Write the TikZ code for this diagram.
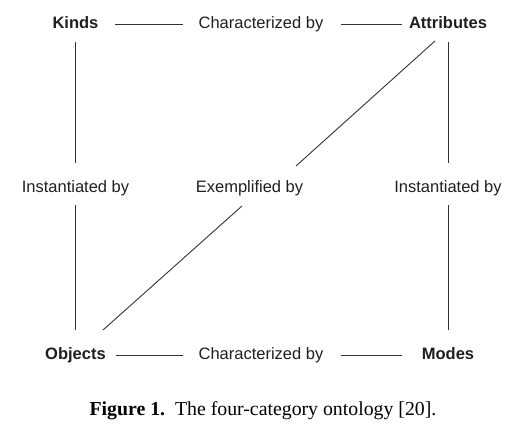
\documentclass[tikz,border=0pt]{standalone}
\usepackage{fontspec}
\setmainfont{Liberation Serif}
\newfontfamily\diagfont{Liberation Sans}
\begin{document}
\begin{tikzpicture}[x=1pt,y=-1pt,
  lbl/.style={font=\diagfont\fontsize{16.5}{18}\selectfont, text=black!88, inner sep=0pt, text height=12pt, text depth=3.5pt, anchor=center},
  cat/.style={lbl, font=\diagfont\bfseries\fontsize{16.5}{18}\selectfont},
  conn/.style={draw=black!80, line width=0.9pt}]
\useasboundingbox (0,0) rectangle (515,425);
\node[cat] (kinds) at (75.5,24.5) {Kinds};
\node[cat] (attr) at (448,24.5) {Attributes};
\node[cat] (obj) at (75.5,355) {Objects};
\node[cat] (modes) at (448,355) {Modes};
\node[lbl] (char1) at (261,24.5) {Characterized by};
\node[lbl] (char2) at (261,355) {Characterized by};
\node[lbl] (inst1) at (75.5,188.5) {Instantiated by};
\node[lbl] (inst2) at (448,188.5) {Instantiated by};
\node[lbl] (exem) at (249.5,188.5) {Exemplified by};
\node[font=\fontsize{19.8}{22}\selectfont, inner sep=0pt, anchor=base] (cap) at (263,415) {\textbf{Figure 1.}\ \ The four-category ontology [20].};
% horizontal
\draw[conn] ([xshift=16.7]kinds.east) -- ([xshift=-15.7]char1.west);
\draw[conn] ([xshift=17.7]char1.east) -- ([xshift=-6.7]attr.west);
\draw[conn] ([xshift=9.7]obj.east) -- ([xshift=-15.7]char2.west);
\draw[conn] ([xshift=17.7]char2.east) -- ([xshift=-19.7]modes.west);
% vertical
\draw[conn] ([yshift=-10]kinds.south) -- ([yshift=18]inst1.north);
\draw[conn] ([yshift=-9]inst1.south) -- ([yshift=17]obj.north);
\draw[conn] ([yshift=-10]attr.south) -- ([yshift=18]inst2.north);
\draw[conn] ([yshift=-9]inst2.south) -- ([yshift=17]modes.north);
% diagonal
\draw[conn] ([shift={(-13,16.5)}]attr.center) -- ([shift={(46.5,-22.5)}]exem.center);
\draw[conn] ([shift={(-7.5,17.5)}]exem.center) -- ([shift={(27.5,-25)}]obj.center);
\end{tikzpicture}
\end{document}
